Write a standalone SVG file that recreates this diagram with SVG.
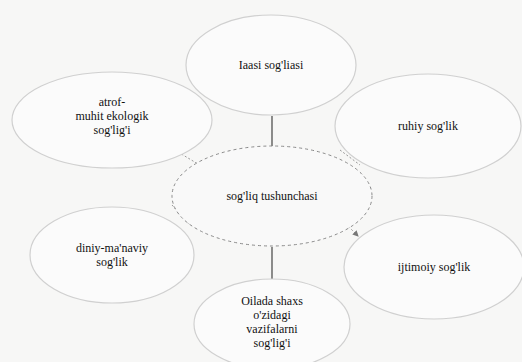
<svg xmlns="http://www.w3.org/2000/svg" width="522" height="362" viewBox="0 0 522 362">
<style>
.bg{fill:#f7f7f6}
.n{fill:#fbfbfb;stroke:#d0d0d0;stroke-width:1.2}
.c{fill:#f9f9f9;stroke:#8a8a8a;stroke-width:1;stroke-dasharray:3 3}
.t{font-family:"Liberation Serif","DejaVu Serif",serif;font-size:12px;fill:#111;text-anchor:middle}
.l{stroke:#444;stroke-width:1.2;fill:none}
.d{stroke:#999;stroke-width:1;stroke-dasharray:2 2;fill:none}
</style>
<defs>
<marker id="a" markerWidth="6" markerHeight="6" refX="5" refY="3" orient="auto"><path d="M0,0 L6,3 L0,6 z" fill="#777"/></marker>
</defs>
<rect class="bg" width="522" height="362"/>
<g id="connectors">
<line class="l" x1="272" y1="116" x2="272" y2="146"/>
<line class="l" x1="272" y1="247" x2="272" y2="279"/>
<line class="d" x1="178" y1="152" x2="203" y2="167" marker-end="url(#a)"/>
<line class="d" x1="340" y1="150" x2="360" y2="165"/>
<line class="d" x1="340" y1="218" x2="358" y2="236" marker-end="url(#a)"/>
<line class="d" x1="172" y1="205" x2="190" y2="225"/>
</g>
<g id="node-top"><ellipse class="n" cx="271" cy="65" rx="85" ry="50"/><text class="t" x="271" y="69">Iaasi sog'liasi</text></g>
<g id="node-topleft"><ellipse class="n" cx="112" cy="120" rx="100" ry="48"/><text class="t" x="112" y="106">atrof-</text><text class="t" x="112" y="120">muhit ekologik</text><text class="t" x="112" y="134">sog'lig'i</text></g>
<g id="node-topright"><ellipse class="n" cx="428" cy="126" rx="93" ry="52"/><text class="t" x="428" y="130">ruhiy sog'lik</text></g>
<g id="node-center"><ellipse class="c" cx="272" cy="196" rx="100" ry="50"/><text class="t" x="272" y="200">sog'liq tushunchasi</text></g>
<g id="node-bottomleft"><ellipse class="n" cx="112" cy="255" rx="82" ry="48"/><text class="t" x="112" y="252">diniy-ma'naviy</text><text class="t" x="112" y="266">sog'lik</text></g>
<g id="node-bottomright"><ellipse class="n" cx="434" cy="267" rx="90" ry="52"/><text class="t" x="434" y="271">ijtimoiy sog'lik</text></g>
<g id="node-bottom"><ellipse class="n" cx="272" cy="324" rx="78" ry="45"/><text class="t" x="272" y="305">Oilada shaxs</text><text class="t" x="272" y="319">o'zidagi</text><text class="t" x="272" y="333">vazifalarni</text><text class="t" x="272" y="347">sog'lig'i</text></g>
</svg>
